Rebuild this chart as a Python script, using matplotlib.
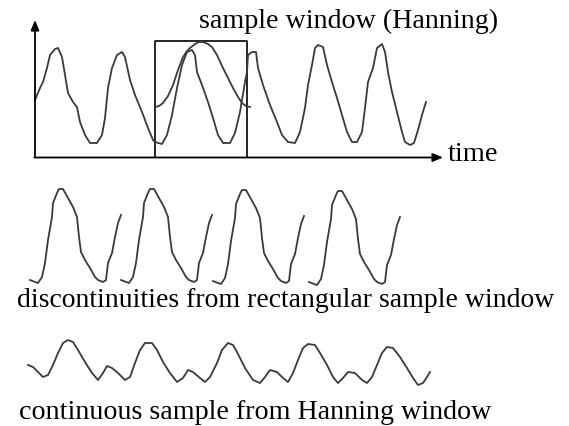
import matplotlib.pyplot as plt

plt.rcParams['font.family'] = ['Liberation Serif', 'DejaVu Serif']

# top signal (pixel coords, y grows downward)
sig_x = [35, 40, 43, 47, 50, 55, 58, 62, 65, 68, 73, 77, 80, 85, 90, 97, 102, 105, 108, 112,
         117, 122, 125, 130, 135, 142, 148, 153, 155, 162, 167, 172, 177, 182, 187, 192, 195,
         197, 202, 208, 213, 218, 223, 230, 235, 240, 245, 247, 248, 252, 256, 258, 263, 270,
         277, 282, 288, 295, 300, 305, 308, 312, 315, 318, 323, 327, 332, 337, 342, 347, 352,
         357, 362, 365, 368, 373, 377, 382, 385, 388, 392, 397, 402, 405, 410, 414, 418, 422, 426]
sig_y = [100, 88, 82, 68, 55, 49, 48, 57, 75, 93, 102, 107, 122, 135, 143, 143, 135, 118, 88, 68,
         55, 52, 57, 80, 95, 112, 128, 140, 142, 144, 135, 115, 88, 65, 52, 50, 55,
         72, 85, 102, 118, 135, 143, 143, 133, 112, 82, 72, 55, 52, 52, 68, 85, 105,
         122, 135, 142, 143, 132, 108, 85, 65, 48, 45, 47, 65, 82, 98, 115, 132, 142,
         142, 132, 108, 82, 68, 48, 44, 52, 72, 92, 112, 132, 142, 145, 143, 130, 115, 102]

# hanning window drawn over the box
han_x = [155, 159, 163, 168, 173, 178, 183, 187, 190, 195, 199, 203, 208, 212, 217, 223, 228,
         233, 238, 242, 246, 250]
han_y = [107, 106, 103, 96, 85, 70, 57, 51, 48, 44, 42, 42, 44, 47, 55, 68, 78, 88, 97, 103, 106, 107]

# sample box
box_x = [155, 247]
box_y = [41, 157]

# one chopped period (rectangular window)
seg_x = [30, 35, 38, 42, 45, 48, 52, 53, 57, 59, 63, 68, 73, 77, 79, 81, 85, 90, 95, 98, 103,
         106, 108, 112, 115, 118, 121]
seg_y = [280, 282, 283, 277, 263, 240, 217, 203, 193, 189, 189, 198, 207, 217, 237, 252, 260,
         268, 277, 280, 282, 280, 263, 253, 237, 223, 215]
seg_dx = [0, 91, 183, 279]
seg_dy = [0, 0, 1, 2]

# continuous windowed signal
cont_x = [28, 33, 38, 43, 48, 53, 58, 63, 68, 73, 78, 85, 92, 98, 103, 107, 112, 118, 125, 130,
          135, 140, 145, 152, 157, 163, 170, 177, 183, 188, 193, 200, 205, 210, 217, 222, 228,
          233, 237, 245, 253, 260, 265, 270, 277, 283, 288, 293, 298, 303, 308, 315, 320, 327,
          333, 338, 343, 348, 355, 362, 367, 372, 377, 382, 387, 393, 400, 407, 413, 418, 423,
          427, 430]
cont_y = [365, 367, 372, 377, 375, 365, 353, 343, 340, 342, 350, 362, 373, 380, 373, 366, 368,
          373, 380, 377, 363, 350, 343, 343, 350, 362, 373, 382, 378, 370, 372, 378, 382, 377,
          363, 350, 343, 345, 352, 368, 380, 383, 377, 370, 372, 378, 382, 373, 360, 348, 344,
          345, 353, 365, 377, 383, 378, 372, 373, 380, 383, 377, 365, 353, 347, 348, 357, 368,
          378, 385, 383, 377, 372]

wave_col = '#3a3a3a'

fig = plt.figure(figsize=(5.69, 4.26), dpi=100)
ax = fig.add_axes([0, 0, 1, 1])
ax.set_xlim(0, 569)
ax.set_ylim(426, 0)
ax.axis('off')

# axes with arrows
arr = dict(arrowstyle='-|>,head_length=0.6,head_width=0.25', color='black', lw=1.3, shrinkA=0, shrinkB=0)
ax.annotate('', xy=(35, 20), xytext=(35, 157.5), arrowprops=arr)
ax.annotate('', xy=(443, 157.5), xytext=(34.4, 157.5), arrowprops=arr)

ax.plot([box_x[0], box_x[0], box_x[1], box_x[1]], [box_y[1], box_y[0], box_y[0], box_y[1]],
        color='black', lw=1.2)

ax.plot(sig_x, sig_y, color=wave_col, lw=1.3)
ax.plot(han_x, han_y, color=wave_col, lw=1.3)

for dx, dy in zip(seg_dx, seg_dy):
    ax.plot([x + dx for x in seg_x], [y + dy for y in seg_y], color=wave_col, lw=1.3)

ax.plot(cont_x, cont_y, color=wave_col, lw=1.3)

ax.text(199, 28, 'sample window (Hanning)', fontsize=20.2, va='baseline', ha='left')
ax.text(448, 161, 'time', fontsize=20.5, va='baseline', ha='left')
ax.text(17, 307, 'discontinuities from rectangular sample window', fontsize=20, va='baseline', ha='left')
ax.text(19, 419, 'continuous sample from Hanning window', fontsize=20.2, va='baseline', ha='left')

fig.savefig('out.png', dpi=100)
